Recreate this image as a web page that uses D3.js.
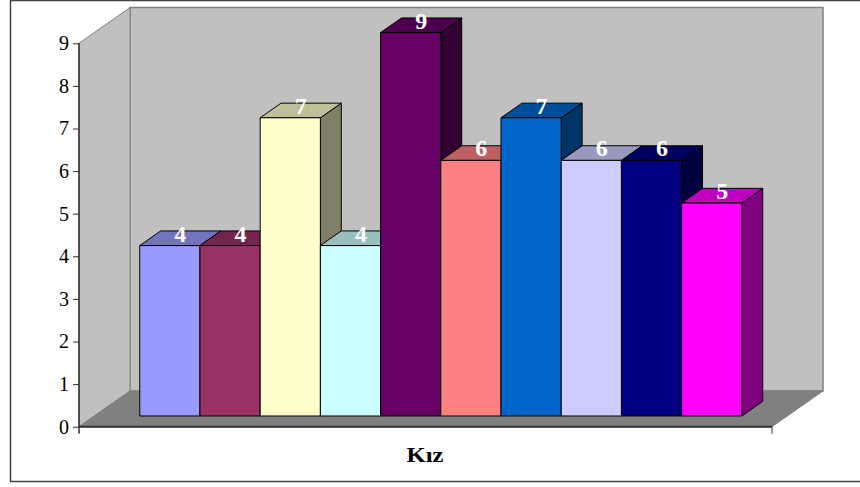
<!DOCTYPE html>
<html>
<head>
<meta charset="utf-8">
<script src="https://cdn.jsdelivr.net/npm/d3@7"></script>
<style>
  html, body { margin: 0; padding: 0; background: #fff; }
  svg { display: block; }
</style>
</head>
<body>
<svg id="chart" width="860" height="487"></svg>
<script>
// Data
const category = 'Kız';
const seriesNames = ['S1', 'S2', 'S3', 'S4', 'S5', 'S6', 'S7', 'S8', 'S9', 'S10'];
const seriesValues = [4, 4, 7, 4, 9, 6, 7, 6, 6, 5];
const seriesColors = ['#9999FF', '#993366', '#FFFFCC', '#CCFFFF', '#660066',
  '#FF8080', '#0066CC', '#CCCCFF', '#000080', '#FF00FF'];
const yTicks = [0, 1, 2, 3, 4, 5, 6, 7, 8, 9];

const svg = d3.select('#chart');

// Front plane of the plot and the depth vector of the 3D box
const plot = { left: 79, right: 772, top: 43.3, bottom: 426.7 };
const depth = { dx: 51, dy: -35.7 };
const barDepth = [0.3, 0.71];

const yScale = d3.scaleLinear().domain([0, 9]).range([plot.bottom, plot.top]);
const xScale = d3.scaleBand()
  .domain(seriesNames)
  .range([plot.left, plot.right])
  .paddingInner(0)
  .paddingOuter(0.755);

const shade = (c, k) => {
  const col = d3.rgb(c);
  return d3.rgb(col.r * k, col.g * k, col.b * k).formatHex();
};
const pts = arr => arr.map(p => p.join(',')).join(' ');

// Outer frame
svg.append('rect')
  .attr('x', 10.5).attr('y', 0.5)
  .attr('width', 860).attr('height', 481)
  .attr('fill', 'none')
  .attr('stroke', '#404040')
  .attr('stroke-width', 1.5);

// Walls and floor
const x0 = plot.left, x1 = plot.right;
const y0 = yScale(0), yTop = yScale(9);

svg.append('polygon') // back wall
  .attr('points', pts([[x0 + depth.dx, yTop + depth.dy], [x1 + depth.dx, yTop + depth.dy],
    [x1 + depth.dx, y0 + depth.dy], [x0 + depth.dx, y0 + depth.dy]]))
  .attr('fill', '#C0C0C0')
  .attr('stroke', '#808080')
  .attr('stroke-width', 1.5);

svg.append('polygon') // left wall
  .attr('points', pts([[x0, yTop], [x0 + depth.dx, yTop + depth.dy],
    [x0 + depth.dx, y0 + depth.dy], [x0, y0]]))
  .attr('fill', '#C0C0C0')
  .attr('stroke', '#808080')
  .attr('stroke-width', 1);

svg.append('polygon') // floor
  .attr('points', pts([[x0, y0], [x0 + depth.dx, y0 + depth.dy],
    [x1 + depth.dx, y0 + depth.dy], [x1, y0]]))
  .attr('fill', '#808080')
  .attr('stroke', '#808080')
  .attr('stroke-width', 1);

svg.append('line') // floor front edge
  .attr('x1', x0).attr('x2', x1)
  .attr('y1', y0).attr('y2', y0)
  .attr('stroke', '#303030')
  .attr('stroke-width', 2);

svg.append('line') // category tick at the right end
  .attr('x1', x1).attr('x2', x1)
  .attr('y1', y0).attr('y2', y0 + 7)
  .attr('stroke', '#303030')
  .attr('stroke-width', 1);

// Value axis
const yAxis = svg.append('g')
  .attr('transform', `translate(${plot.left},0)`)
  .call(d3.axisLeft(yScale).tickValues(yTicks).tickSize(6).tickSizeOuter(0).tickPadding(4));

yAxis.select('.domain').attr('stroke', '#303030').attr('stroke-width', 1.5)
  .attr('d', `M0,${yTop}V${y0 + 7}`);
yAxis.selectAll('.tick line').attr('stroke', '#303030');
yAxis.selectAll('.tick text')
  .attr('font-family', '"Liberation Serif", "Times New Roman", serif')
  .attr('font-size', 20)
  .attr('fill', '#000');

// Bars, drawn left to right so each bar hides its neighbour's side face
const barData = seriesNames.map((name, i) => ({ name, value: seriesValues[i], color: seriesColors[i] }));
const fx = barDepth[0] * depth.dx, fy = barDepth[0] * depth.dy;
const bx = (barDepth[1] - barDepth[0]) * depth.dx, by = (barDepth[1] - barDepth[0]) * depth.dy;

const bars = svg.append('g').attr('class', 'bars')
  .selectAll('g.bar')
  .data(barData)
  .join('g')
  .attr('class', 'bar')
  .attr('stroke', '#000')
  .attr('stroke-width', 1)
  .attr('stroke-linejoin', 'round');

const geom = d => {
  const l = xScale(d.name) + fx;
  const r = l + xScale.bandwidth();
  const t = yScale(d.value) + fy;
  const b = yScale(0) + fy;
  return { l, r, t, b };
};

bars.append('polygon') // side
  .attr('points', d => {
    const g = geom(d);
    return pts([[g.r, g.t], [g.r + bx, g.t + by], [g.r + bx, g.b + by], [g.r, g.b]]);
  })
  .attr('fill', d => shade(d.color, 0.5));

bars.append('polygon') // top
  .attr('points', d => {
    const g = geom(d);
    return pts([[g.l, g.t], [g.l + bx, g.t + by], [g.r + bx, g.t + by], [g.r, g.t]]);
  })
  .attr('fill', d => shade(d.color, 0.75));

bars.append('rect') // front
  .attr('x', d => geom(d).l)
  .attr('y', d => geom(d).t)
  .attr('width', xScale.bandwidth())
  .attr('height', d => geom(d).b - geom(d).t)
  .attr('fill', d => d.color);

// Value labels
svg.append('g').attr('class', 'labels')
  .selectAll('text')
  .data(barData)
  .join('text')
  .attr('x', d => geom(d).l + xScale.bandwidth() / 2 + bx / 2)
  .attr('y', d => geom(d).t - 4)
  .attr('text-anchor', 'middle')
  .attr('font-family', '"Liberation Serif", "Times New Roman", serif')
  .attr('font-weight', 'bold')
  .attr('font-size', 24)
  .attr('fill', '#fff')
  .text(d => d.value);

// Category title
svg.append('text')
  .attr('x', 425)
  .attr('y', 462)
  .attr('text-anchor', 'middle')
  .attr('font-family', '"Liberation Serif", "Times New Roman", serif')
  .attr('font-weight', 'bold')
  .attr('font-size', 22)
  .attr('textLength', 37)
  .attr('lengthAdjust', 'spacingAndGlyphs')
  .text(category);
</script>
</body>
</html>
